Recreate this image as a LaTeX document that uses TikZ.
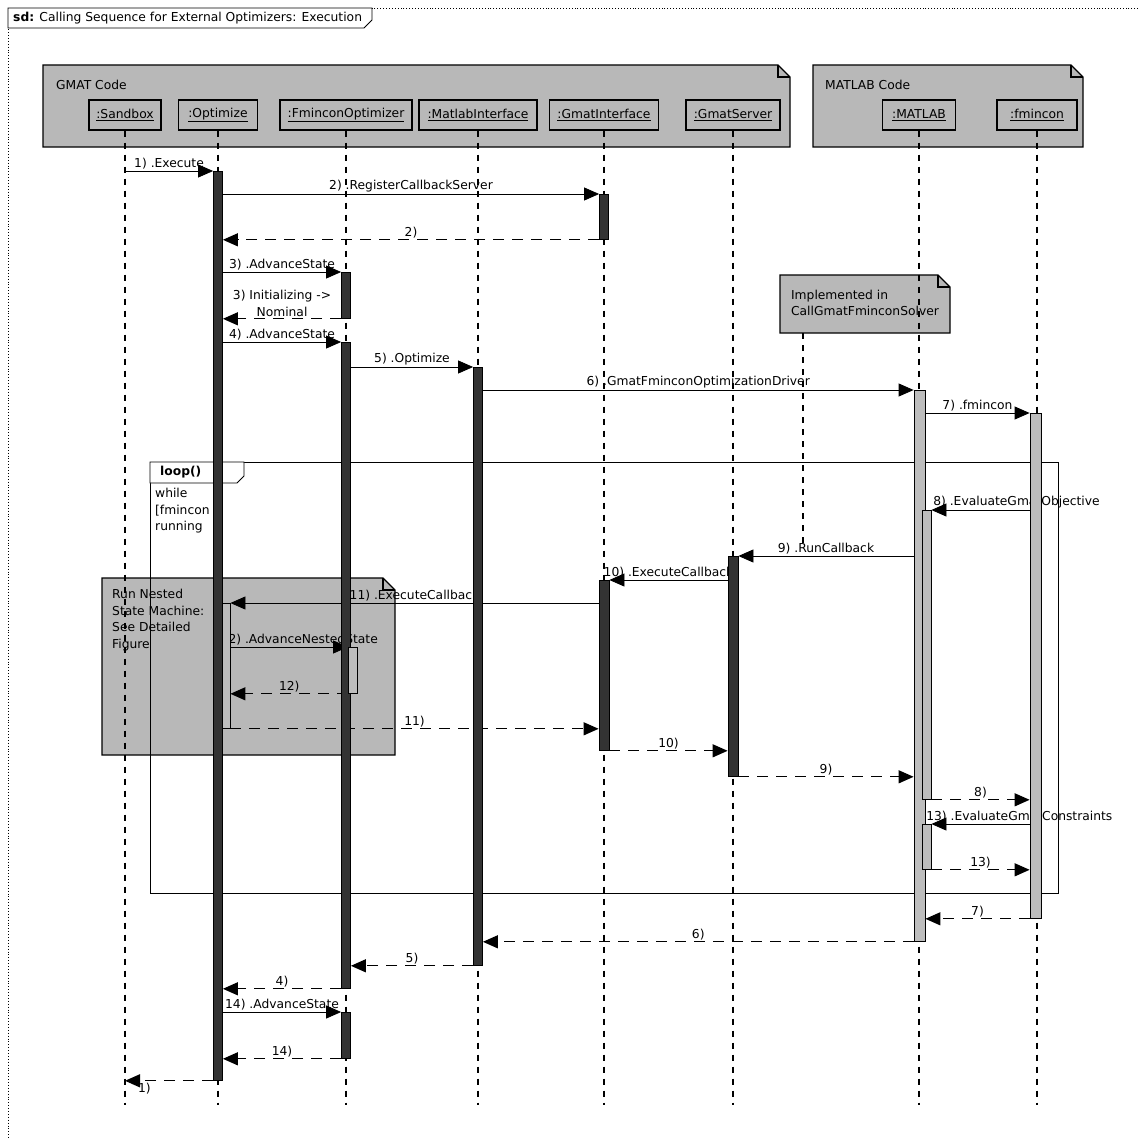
\documentclass[tikz,border=0pt]{standalone}
\usepackage{fontspec}
\setmainfont{DejaVu Sans}
\usetikzlibrary{positioning, arrows.meta}
\definecolor{dotgray}{gray}{0.72}
\definecolor{bardark}{gray}{0.2}
\definecolor{barlight}{gray}{0.74}
\pgfdeclarelayer{front}
\pgfsetlayers{main,front}

\begin{document}
\begin{tikzpicture}[x=1pt, y=-1pt, font=\fontsize{12.3}{16.5}\selectfont,
  pkg/.style={draw=black, line width=1.2pt, fill=dotgray},
  headbox/.style={draw=black, line width=1.4pt, fill=dotgray, minimum height=30pt, inner sep=2pt},
  lifeline/.style={line width=1.1pt, dash pattern=on 6pt off 6pt},
  darkbar/.style={draw=black, line width=0.8pt, fill=bardark, minimum width=9pt, inner sep=0pt, anchor=north},
  lightbar/.style={draw=black, line width=0.8pt, fill=barlight, minimum width=9pt, inner sep=0pt, anchor=north},
  call/.style={-{Triangle[length=15pt, width=13pt]}, line width=0.8pt},
  reply/.style={-{Triangle[length=15pt, width=13pt]}, line width=1.3pt, dash pattern=on 11pt off 8pt},
  msg/.style={inner sep=1.5pt}]
  \useasboundingbox (0,0) rectangle (1138,1140);

  % frame and title
  \draw[dotted, line width=0.9pt] (1138,8) -- (8,8) -- (8,1140);
  \draw[line width=0.8pt, fill=white] (8,8) -- (372,8) -- (372,20) -- (364,28) -- (8,28) -- cycle;
  \node[anchor=west, inner sep=0pt] (title) at (13,18) {\textbf{sd:} Calling Sequence for External Optimizers: Execution};

  % packages
  \draw[pkg] (43,65) -- (778,65) -- (790,77) -- (790,147) -- (43,147) -- cycle;
  \draw[line width=1.2pt] (778,65) -- (778,77) -- (790,77);
  \node[anchor=west, inner sep=0pt] (gmatcode) at (56,85) {GMAT Code};
  \draw[pkg] (813,65) -- (1071,65) -- (1083,77) -- (1083,147) -- (813,147) -- cycle;
  \draw[line width=1.2pt] (1071,65) -- (1071,77) -- (1083,77);
  \node[anchor=west, inner sep=0pt] (matlabcode) at (825,85) {MATLAB Code};

  % lifeline heads
  \node[headbox, minimum width=72pt] (sandbox) at (125,115) {\underline{:Sandbox}};
  \node[headbox, minimum width=79pt] (optimize) at (218,115) {\underline{:Optimize}};
  \node[headbox, minimum width=132pt] (fminopt) at (346,115) {\underline{:FminconOptimizer}};
  \node[headbox, minimum width=118pt] (matlabif) at (478,115) {\underline{:MatlabInterface}};
  \node[headbox, minimum width=109pt] (gmatif) at (604,115) {\underline{:GmatInterface}};
  \node[headbox, minimum width=94pt] (gmatserver) at (733,115) {\underline{:GmatServer}};
  \node[headbox, minimum width=73pt] (matlab) at (919,115) {\underline{:MATLAB}};
  \node[headbox, minimum width=80pt] (fmincon) at (1037,115) {\underline{:fmincon}};

  % notes
  \draw[pkg] (102,578) -- (383,578) -- (395,590) -- (395,755) -- (102,755) -- cycle;
  \draw[line width=1.2pt] (383,578) -- (383,590) -- (395,590);
  \node[anchor=north west, align=left, inner sep=0pt] (nestnote) at (112,589) {Run Nested\\State Machine:\\See Detailed\\Figure};
  \draw[pkg] (780,275) -- (938,275) -- (950,287) -- (950,333) -- (780,333) -- cycle;
  \draw[line width=1.2pt] (938,275) -- (938,287) -- (950,287);
  \node[minimum width=170pt, minimum height=58pt, align=left, inner sep=0pt] (implnote) at (865,303) {Implemented in\\CallGmatFminconSolver};
  \coordinate (implend) at (803,545);
  \draw[lifeline] ([xshift=-62pt, yshift=-1pt]implnote.south) -- (implend);

  % lifelines
  \draw[lifeline] (sandbox.south) -- (sandbox.south |- 0,1105);
  \draw[lifeline] (optimize.south) -- (optimize.south |- 0,1105);
  \draw[lifeline] (fminopt.south) -- (fminopt.south |- 0,1105);
  \draw[lifeline] (matlabif.south) -- (matlabif.south |- 0,1105);
  \draw[lifeline] (gmatif.south) -- (gmatif.south |- 0,1105);
  \draw[lifeline] (gmatserver.south) -- (gmatserver.south |- 0,1105);
  \draw[lifeline] (matlab.south) -- (matlab.south |- 0,1105);
  \draw[lifeline] (fmincon.south) -- (fmincon.south |- 0,1105);

  % loop fragment
  \draw[line width=0.8pt] (150,462) rectangle (1058,893);
  \draw[line width=0.8pt, fill=white] (150,462) -- (244,462) -- (244,476) -- (237,483) -- (150,483) -- cycle;
  \node[anchor=west, inner sep=0pt] (looplabel) at (160,472) {\textbf{loop()}};
  \node[anchor=north west, align=left, inner sep=0pt] (guard) at (155,488) {while\\{[}fmincon\\running};

  % activations
  \begin{pgfonlayer}{front}
    \node[darkbar, minimum height=909pt] (optbar) at (218,171) {};
    \node[darkbar, minimum height=45pt] (gibar1) at (604,194) {};
    \node[darkbar, minimum height=46pt] (fobar1) at (346,272) {};
    \node[darkbar, minimum height=646pt] (fobar2) at (346,342) {};
    \node[darkbar, minimum height=598pt] (mibar) at (478,367) {};
    \node[lightbar, minimum width=11pt, minimum height=551pt] (mlbar) at (919.5,390) {};
    \node[lightbar, minimum width=11pt, minimum height=505pt] (fmbar) at (1035.5,413) {};
    \node[lightbar, minimum height=289pt] (mlnest1) at (926.5,510) {};
    \node[lightbar, minimum height=45pt] (mlnest2) at (926.5,824) {};
    \node[darkbar, minimum width=10pt, minimum height=220pt] (gsbar) at (733,556) {};
    \node[darkbar, minimum width=10pt, minimum height=170pt] (gibar2) at (604,580) {};
    \node[lightbar, minimum width=8pt, minimum height=125pt] (optnest) at (226,603) {};
    \node[lightbar, minimum height=46pt] (fonest) at (353,647) {};
    \node[darkbar, minimum height=46pt] (fobar3) at (346,1012) {};
  \end{pgfonlayer}

  % messages
  \draw[call] (sandbox.south |- optbar.north) -- (optbar.north west) node[msg, midway, above] {1) .Execute};
  \draw[call] (optbar.east |- gibar1.north) -- (gibar1.north west) node[msg, midway, above] {2) .RegisterCallbackServer};
  \draw[reply] (gibar1.south west) -- (optbar.east |- gibar1.south) node[msg, midway, above] {2)};
  \draw[call] (optbar.east |- fobar1.north) -- (fobar1.north west) node[msg, midway, above] {3) .AdvanceState};
  \draw[reply] (fobar1.south west) -- (optbar.east |- fobar1.south) node[msg, midway, above, align=center] {3) Initializing ->\\Nominal};
  \draw[call] (optbar.east |- fobar2.north) -- (fobar2.north west) node[msg, midway, above] {4) .AdvanceState};
  \draw[call] (fobar2.east |- mibar.north) -- (mibar.north west) node[msg, midway, above] {5) .Optimize};
  \draw[call] (mibar.east |- mlbar.north) -- (mlbar.north west) node[msg, midway, above] {6) .GmatFminconOptimizationDriver};
  \draw[call] (mlbar.east |- fmbar.north) -- (fmbar.north west) node[msg, midway, above] {7) .fmincon};
  \draw[call] (fmbar.west |- mlnest1.north) -- (mlnest1.north east) node[msg, pos=1, above right] {8) .EvaluateGmatObjective};
  \draw[call] (mlbar.west |- gsbar.north) -- (gsbar.north east) node[msg, midway, above] {9) .RunCallback};
  \draw[call] (gsbar.west |- gibar2.north) -- (gibar2.north east) node[msg, midway, above] {10) .ExecuteCallback};
  \draw[call] (gibar2.west |- optnest.north) -- (optnest.north east) node[msg, midway, above] {11) .ExecuteCallback};
  \draw[call] (optnest.east |- fonest.north) -- (fonest.north west) node[msg, midway, above, xshift=10pt] {12) .AdvanceNestedState};
  \draw[reply] (fonest.south west) -- (optnest.east |- fonest.south) node[msg, midway, above] {12)};
  \draw[reply] (optnest.south east) -- (gibar2.west |- optnest.south) node[msg, midway, above] {11)};
  \draw[reply] (gibar2.south east) -- (gsbar.west |- gibar2.south) node[msg, midway, above] {10)};
  \draw[reply] (gsbar.south east) -- (mlbar.west |- gsbar.south) node[msg, midway, above] {9)};
  \draw[reply] (mlnest1.south east) -- (fmbar.west |- mlnest1.south) node[msg, midway, above] {8)};
  \draw[call] (fmbar.west |- mlnest2.north) -- (mlnest2.north east) node[msg, pos=1, above right, xshift=-7pt] {13) .EvaluateGmatConstraints};
  \draw[reply] (mlnest2.south east) -- (fmbar.west |- mlnest2.south) node[msg, midway, above] {13)};
  \draw[reply] (fmbar.south west) -- (mlbar.east |- fmbar.south) node[msg, midway, above] {7)};
  \draw[reply] (mlbar.south west) -- (mibar.east |- mlbar.south) node[msg, midway, above] {6)};
  \draw[reply] (mibar.south west) -- (fobar2.east |- mibar.south) node[msg, midway, above] {5)};
  \draw[reply] (fobar2.south west) -- (optbar.east |- fobar2.south) node[msg, midway, above] {4)};
  \draw[call] (optbar.east |- fobar3.north) -- (fobar3.north west) node[msg, midway, above] {14) .AdvanceState};
  \draw[reply] (fobar3.south west) -- (optbar.east |- fobar3.south) node[msg, midway, above] {14)};
  \draw[reply] (optbar.south west) -- (sandbox.south |- optbar.south) node[msg, pos=0.78, below] {1)};
\end{tikzpicture}
\end{document}
